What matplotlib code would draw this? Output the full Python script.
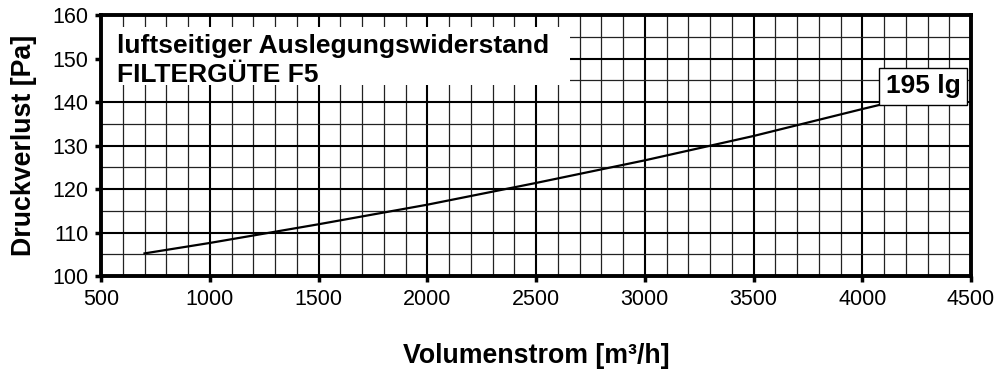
import matplotlib.pyplot as plt
from matplotlib.patches import Rectangle
from matplotlib.ticker import MultipleLocator

plt.rcParams['font.family'] = ['Liberation Sans', 'DejaVu Sans']

# Kennlinie Filter F5
volumenstrom = [700, 1000, 1500, 2000, 2500, 3000, 3500, 4000, 4100]
druckverlust = [105.2, 107.6, 111.9, 116.4, 121.4, 126.6, 132.2, 138.4, 139.6]
kurven_name = '195 lg'
titel = ['luftseitiger Auslegungswiderstand', 'FILTERGÜTE F5']

fig = plt.figure(figsize=(10, 3.69), dpi=100)
ax = fig.add_axes([0.101, 0.252, 0.870, 0.707])

ax.plot(volumenstrom, druckverlust, color='black', lw=1.6, zorder=4)

ax.set_xlim(500, 4500)
ax.set_ylim(100, 160)
ax.xaxis.set_major_locator(MultipleLocator(500))
ax.xaxis.set_minor_locator(MultipleLocator(100))
ax.yaxis.set_major_locator(MultipleLocator(10))
ax.yaxis.set_minor_locator(MultipleLocator(5))

ax.grid(which='major', color='black', lw=1.5, zorder=1)
ax.grid(which='minor', color='#222222', lw=0.9, zorder=1)
ax.set_axisbelow(True)

ax.tick_params(which='major', direction='out', length=4, width=2.5, labelsize=15.5, pad=5)
ax.tick_params(which='minor', length=0)
for s in ax.spines.values():
    s.set_linewidth(2.8)
    s.set_zorder(5)

ax.set_xlabel('Volumenstrom [m³/h]', fontsize=19.3, fontweight='bold', labelpad=24)
ax.set_ylabel('Druckverlust [Pa]', fontsize=19.3, fontweight='bold', labelpad=11)

# weisses Feld fuer die Beschriftung oben links
ax.add_patch(Rectangle((0, 0.732), 0.539, 0.222, transform=ax.transAxes,
                       facecolor='white', edgecolor='none', zorder=3))
ax.text(0.018, 0.88, titel[0], transform=ax.transAxes, fontsize=19,
        fontweight='bold', va='center', zorder=4)
ax.text(0.018, 0.772, titel[1], transform=ax.transAxes, fontsize=19,
        fontweight='bold', va='center', zorder=4)

# Bezeichnung am Kurvenende
ax.annotate(kurven_name, (volumenstrom[-1], druckverlust[-1]),
            xytext=(1.5, 4), textcoords='offset points', ha='left', va='bottom',
            fontsize=19, fontweight='bold', zorder=6,
            bbox=dict(boxstyle='square,pad=0.25', facecolor='white',
                      edgecolor='black', lw=1.0))

fig.savefig('out.png', dpi=100)
